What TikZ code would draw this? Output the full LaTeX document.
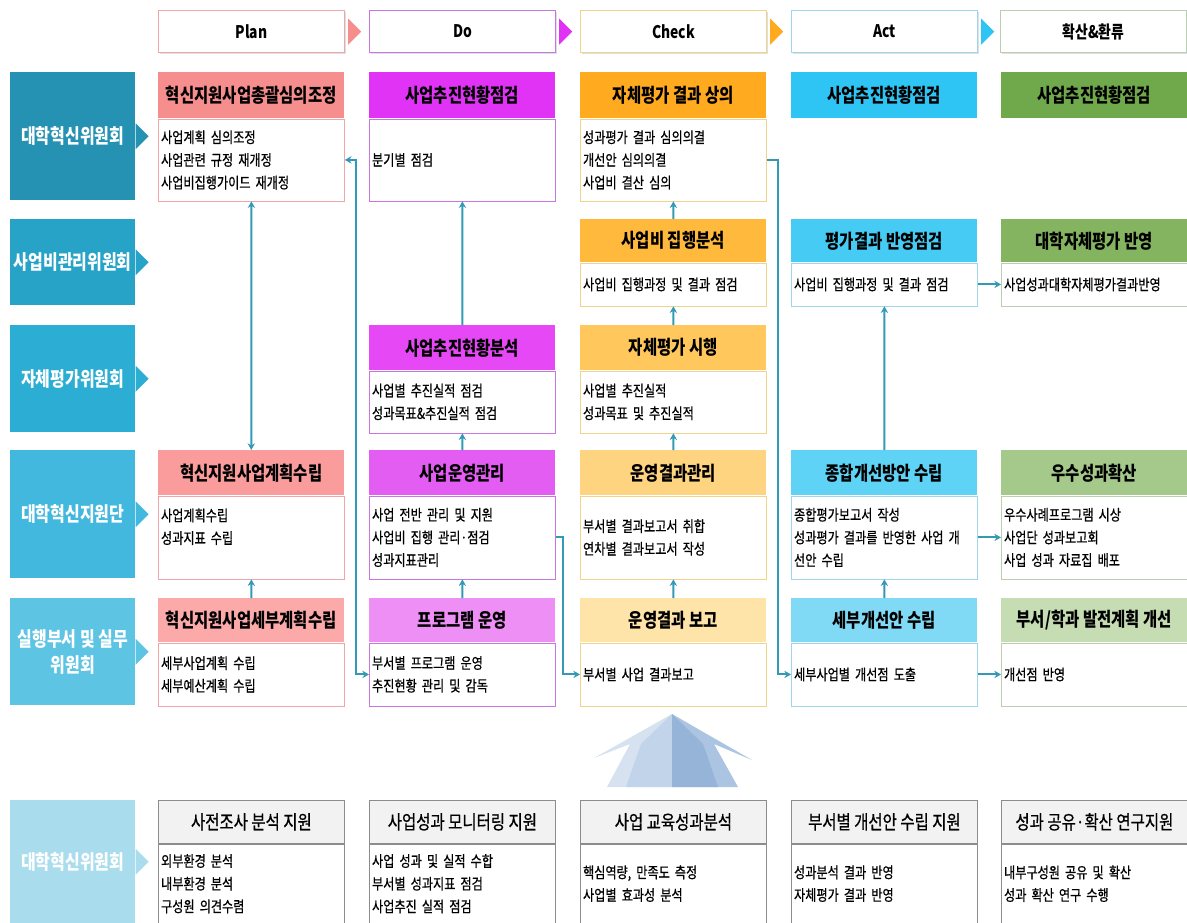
\documentclass[tikz,border=0pt]{standalone}
\usepackage{fontspec}
\setmainfont{Noto Sans CJK KR}[FakeStretch=0.8]
\newfontfamily\krmed{Noto Sans CJK KR}[FakeStretch=0.8, FakeBold=0.6]
\usetikzlibrary{arrows.meta, calc, positioning, shadows}

\definecolor{plnA}{HTML}{F78E8E}
\definecolor{plnB}{HTML}{FA9C9C}
\definecolor{plnC}{HTML}{FBA9A9}
\definecolor{plnln}{HTML}{F0A6A6}
\definecolor{doA}{HTML}{E033F5}
\definecolor{doB}{HTML}{E548F4}
\definecolor{doC}{HTML}{E45DF3}
\definecolor{doD}{HTML}{EE8FF6}
\definecolor{doln}{HTML}{C877E0}
\definecolor{chkA}{HTML}{FFAA1F}
\definecolor{chkB}{HTML}{FFB93C}
\definecolor{chkC}{HTML}{FFC75C}
\definecolor{chkD}{HTML}{FFD480}
\definecolor{chkE}{HTML}{FFE4AA}
\definecolor{chkln}{HTML}{EED48C}
\definecolor{actA}{HTML}{2EC5F5}
\definecolor{actB}{HTML}{46CBF4}
\definecolor{actC}{HTML}{5ED3F6}
\definecolor{actD}{HTML}{80DAF5}
\definecolor{actln}{HTML}{9FD6EE}
\definecolor{hwA}{HTML}{70A84C}
\definecolor{hwB}{HTML}{85B460}
\definecolor{hwC}{HTML}{A5C98B}
\definecolor{hwD}{HTML}{C6DDB4}
\definecolor{hwln}{HTML}{BCCDB0}
\definecolor{lab1}{HTML}{2592B3}
\definecolor{lab2}{HTML}{27A3C8}
\definecolor{lab3}{HTML}{2CADD3}
\definecolor{lab4}{HTML}{43B8DE}
\definecolor{lab5}{HTML}{5DC4E4}
\definecolor{labB}{HTML}{A9DDEE}
\definecolor{grisA}{HTML}{F2F2F2}
\definecolor{grisln}{HTML}{8C8C8C}
\definecolor{conn}{HTML}{3399B5}
\definecolor{flechaA}{HTML}{D6E2F0}
\definecolor{flechaB}{HTML}{C2D4E9}
\definecolor{flechaC}{HTML}{95B4D8}
\definecolor{flechaD}{HTML}{AAC4E1}

\tikzset{
  fase/.style      = {draw=#1, fill=white, line width=0.9pt, anchor=north west,
                      minimum width=139.5pt, minimum height=31.5pt, inner sep=0pt,
                      font=\bfseries\fontsize{13}{15}\selectfont,
                      drop shadow={opacity=0.25, shadow xshift=1pt, shadow yshift=-1pt}},
  cabecera/.style  = {fill=#1, anchor=north west, minimum width=139.5pt, inner sep=0pt,
                      font=\bfseries\fontsize{14.5}{16}\selectfont},
  cabecerab/.style = {cabecera=grisA, draw=grisln, line width=0.6pt,
                      font=\krmed\fontsize{14.5}{16}\selectfont},
  cuerpo/.style    = {draw=#1, fill=white, line width=0.6pt, anchor=north west,
                      text width=135.5pt, inner xsep=2pt, inner ysep=0pt, align=left,
                      font=\krmed\fontsize{11.4}{17}\selectfont},
  etiqueta/.style  = {fill=#1, text=white, anchor=north west, minimum width=93.75pt,
                      inner sep=0pt, align=center, font=\bfseries\fontsize{15}{19.5}\selectfont},
  conector/.style  = {->, conn, line width=1.5pt}
}

\begin{document}
\begin{tikzpicture}[x=0.75pt, y=-0.75pt, >={Stealth[length=5pt, width=5.5pt]}]
  \useasboundingbox (0,0) rectangle (1187,923);

  % fases
  \foreach \nom/\x/\col/\txt in {fP/158/plnln/Plan, fD/369/doln/Do, fC/580/chkln/Check,
                                 fA/791/actln/Act, fH/1000/hwln/확산\&환류}{
    \node[fase=\col] (\nom) at (\x,10) {\txt};
  }
  \foreach \nom/\col in {fP/plnA, fD/doA, fC/chkA, fA/actA}{
    \fill[\col] ($(\nom.east)+(3,-13)$) -- ($(\nom.east)+(16,0)$) -- ($(\nom.east)+(3,13)$) -- cycle;
  }

  % etiquetas
  \node[etiqueta=lab1, minimum height=96pt]    (L1) at (10,72)  {대학혁신위원회};
  \node[etiqueta=lab2, minimum height=64.5pt]  (L2) at (10,219) {사업비관리위원회};
  \node[etiqueta=lab3, minimum height=80.25pt] (L3) at (10,325) {자체평가위원회};
  \node[etiqueta=lab4, minimum height=96pt]    (L4) at (10,450) {대학혁신지원단};
  \node[etiqueta=lab5, minimum height=80.25pt] (L5) at (10,598) {실행부서 및 실무\\위원회};
  \node[etiqueta=labB, minimum height=92.25pt] (LB) at (10,800) {대학혁신위원회};
  \foreach \l/\col in {L1/lab1, L2/lab2, L3/lab3, L4/lab4, L5/lab5, LB/labB}{
    \fill[\col] ($(\l.east)+(0,-13)$) -- ($(\l.east)+(13,0)$) -- ($(\l.east)+(0,13)$) -- cycle;
  }

  % Plan
  \node[cabecera=plnA, minimum height=34.5pt] (P1h) at (158,72) {혁신지원사업총괄심의조정};
  \node[cuerpo=plnln, minimum height=61.5pt] (P1b) at (P1h.south west)
    {사업계획 심의조정\\사업관련 규정 재개정\\사업비집행가이드 재개정};
  \node[cabecera=plnB, minimum height=33.75pt] (P4h) at (158,450) {혁신지원사업계획수립};
  \node[cuerpo=plnln, minimum height=62.25pt] (P4b) at (P4h.south west)
    {사업계획수립\\성과지표 수립\\~};
  \node[cabecera=plnC, minimum height=33pt] (P5h) at (158,598) {혁신지원사업세부계획수립};
  \node[cuerpo=plnln, minimum height=47.25pt] (P5b) at (P5h.south west)
    {세부사업계획 수립\\세부예산계획 수립};

  % Do
  \node[cabecera=doA, minimum height=34.5pt] (D1h) at (369,72) {사업추진현황점검};
  \node[cuerpo=doln, minimum height=61.5pt] (D1b) at (D1h.south west) {분기별 점검};
  \node[cabecera=doB, minimum height=33.75pt] (D3h) at (369,325) {사업추진현황분석};
  \node[cuerpo=doln, minimum height=46.5pt] (D3b) at (D3h.south west)
    {사업별 추진실적 점검\\성과목표\&추진실적 점검};
  \node[cabecera=doC, minimum height=33.75pt] (D4h) at (369,450) {사업운영관리};
  \node[cuerpo=doln, minimum height=62.25pt] (D4b) at (D4h.south west)
    {사업 전반 관리 및 지원\\사업비 집행 관리·점검\\성과지표관리};
  \node[cabecera=doD, minimum height=33pt] (D5h) at (369,598) {프로그램 운영};
  \node[cuerpo=doln, minimum height=47.25pt] (D5b) at (D5h.south west)
    {부서별 프로그램 운영\\추진현황 관리 및 감독};

  % Check
  \node[cabecera=chkA, minimum height=34.5pt] (C1h) at (580,72) {자체평가 결과 상의};
  \node[cuerpo=chkln, minimum height=61.5pt] (C1b) at (C1h.south west)
    {성과평가 결과 심의의결\\개선안 심의의결\\사업비 결산 심의};
  \node[cabecera=chkB, minimum height=32.25pt] (C2h) at (580,219) {사업비 집행분석};
  \node[cuerpo=chkln, minimum height=32.25pt] (C2b) at (C2h.south west)
    {사업비 집행과정 및 결과 점검};
  \node[cabecera=chkC, minimum height=33.75pt] (C3h) at (580,325) {자체평가 시행};
  \node[cuerpo=chkln, minimum height=46.5pt] (C3b) at (C3h.south west)
    {사업별 추진실적\\성과목표 및 추진실적};
  \node[cabecera=chkD, minimum height=33.75pt] (C4h) at (580,450) {운영결과관리};
  \node[cuerpo=chkln, minimum height=62.25pt] (C4b) at (C4h.south west)
    {부서별 결과보고서 취합\\연차별 결과보고서 작성};
  \node[cabecera=chkE, minimum height=33pt] (C5h) at (580,598) {운영결과 보고};
  \node[cuerpo=chkln, minimum height=47.25pt] (C5b) at (C5h.south west)
    {부서별 사업 결과보고};

  % Act
  \node[cabecera=actA, minimum height=34.5pt] (A1h) at (791,72) {사업추진현황점검};
  \node[cabecera=actB, minimum height=32.25pt] (A2h) at (791,219) {평가결과 반영점검};
  \node[cuerpo=actln, minimum height=32.25pt] (A2b) at (A2h.south west)
    {사업비 집행과정 및 결과 점검};
  \node[cabecera=actC, minimum height=33.75pt] (A4h) at (791,450) {종합개선방안 수립};
  \node[cuerpo=actln, minimum height=62.25pt] (A4b) at (A4h.south west)
    {종합평가보고서 작성\\성과평가 결과를 반영한 사업 개\\선안 수립};
  \node[cabecera=actD, minimum height=33pt] (A5h) at (791,598) {세부개선안 수립};
  \node[cuerpo=actln, minimum height=47.25pt] (A5b) at (A5h.south west)
    {세부사업별 개선점 도출};

  % 확산&환류
  \node[cabecera=hwA, minimum height=34.5pt] (H1h) at (1001,72) {사업추진현황점검};
  \node[cabecera=hwB, minimum height=32.25pt] (H2h) at (1001,219) {대학자체평가 반영};
  \node[cuerpo=hwln, minimum height=32.25pt] (H2b) at (H2h.south west)
    {사업성과대학자체평가결과반영};
  \node[cabecera=hwC, minimum height=33.75pt] (H4h) at (1001,450) {우수성과확산};
  \node[cuerpo=hwln, minimum height=62.25pt] (H4b) at (H4h.south west)
    {우수사례프로그램 시상\\사업단 성과보고회\\사업 성과 자료집 배포};
  \node[cabecera=hwD, minimum height=33pt] (H5h) at (1001,598) {부서/학과 발전계획 개선};
  \node[cuerpo=hwln, minimum height=47.25pt] (H5b) at (H5h.south west) {개선점 반영};

  % fila inferior
  \node[cabecerab, minimum height=32.25pt] (PBh) at (158,800) {사전조사 분석 지원};
  \node[cuerpo=grisln, minimum height=59.25pt] (PBb) at (PBh.south west)
    {외부환경 분석\\내부환경 분석\\구성원 의견수렴};
  \node[cabecerab, minimum height=32.25pt] (DBh) at (369,800) {사업성과 모니터링 지원};
  \node[cuerpo=grisln, minimum height=59.25pt] (DBb) at (DBh.south west)
    {사업 성과 및 실적 수합\\부서별 성과지표 점검\\사업추진 실적 점검};
  \node[cabecerab, minimum height=32.25pt] (CBh) at (580,800) {사업 교육성과분석};
  \node[cuerpo=grisln, minimum height=59.25pt] (CBb) at (CBh.south west)
    {핵심역량, 만족도 측정\\사업별 효과성 분석};
  \node[cabecerab, minimum height=32.25pt] (ABh) at (791,800) {부서별 개선안 수립 지원};
  \node[cuerpo=grisln, minimum height=59.25pt] (ABb) at (ABh.south west)
    {성과분석 결과 반영\\자체평가 결과 반영};
  \node[cabecerab, minimum height=32.25pt] (HBh) at (1001,800) {성과 공유·확산 연구지원};
  \node[cuerpo=grisln, minimum height=59.25pt] (HBb) at (HBh.south west)
    {내부구성원 공유 및 확산\\성과 확산 연구 수행};

  % conectores
  \draw[conector, <->] (P1b.south) -- (P4h.north);
  \draw[conector] (P5h.north) -- (P4b.south);
  \draw[conector, <->] (P1b.east) -- ++(11,0) |- (D5b.west);
  \foreach \a/\b in {D3h/D1b, D4h/D3b, D5h/D4b, C2h/C1b, C3h/C2b, C4h/C3b, C5h/C4b, A4h/A2b, A5h/A4b}{
    \draw[conector] (\a.north) -- (\b.south);
  }
  \draw[conector] (D4b.east) -- ++(7,0) |- (C5b.west);
  \draw[conector] (C1b.east) -- ++(11,0) |- (A5b.west);
  \foreach \a/\b in {A2b/H2b, A4b/H4b, A5b/H5b}{
    \draw[conector] (\a) -- (\b);
  }

  % flecha grande
  \fill[flechaA] (672,714) -- (594,758) -- (630,744) -- (607,787) -- (672,787) -- cycle;
  \fill[flechaB] (672,714) -- (641,744) -- (626,787) -- (672,787) -- cycle;
  \fill[flechaD] (672,714) -- (752,760) -- (714,744) -- (738,787) -- (672,787) -- cycle;
  \fill[flechaC] (672,714) -- (703,744) -- (718,787) -- (672,787) -- cycle;
\end{tikzpicture}
\end{document}
